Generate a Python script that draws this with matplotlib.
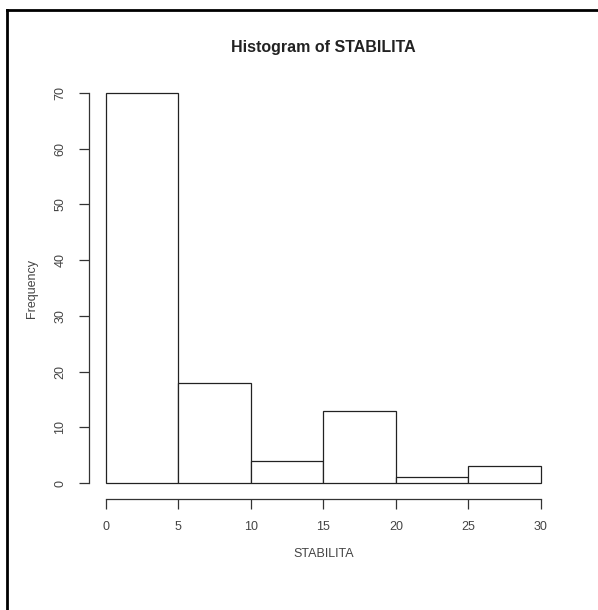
import numpy as np
import matplotlib.pyplot as plt

plt.rcParams['font.family'] = ['Liberation Sans', 'DejaVu Sans']

bin_edges = [0, 5, 10, 15, 20, 25, 30]
counts = [70, 18, 4, 13, 1, 3]
x_ticks = [0, 5, 10, 15, 20, 25, 30]
y_ticks = [0, 10, 20, 30, 40, 50, 60, 70]

fig = plt.figure(figsize=(5.98, 6.10), dpi=100)
ax = fig.add_axes([0.148, 0.1826, 0.7856, 0.6905])

lefts = np.array(bin_edges[:-1])
widths = np.diff(bin_edges)
ax.bar(lefts, counts, width=widths, align='edge', facecolor='white',
       edgecolor='#222222', linewidth=0.9)

ax.set_xlim(-1.2, 31.2)
ax.set_ylim(-2.8, 72.8)
for s in ['top', 'right']:
    ax.spines[s].set_visible(False)
ax.spines['left'].set_bounds(0, 70)
ax.spines['bottom'].set_bounds(0, 30)
for s in ['left', 'bottom']:
    ax.spines[s].set_color('#333333')
    ax.spines[s].set_linewidth(0.9)

ax.set_xticks(x_ticks)
ax.set_yticks(y_ticks)
ax.set_yticklabels([str(v) for v in y_ticks], rotation=90, va='center')
ax.tick_params(direction='out', length=7, width=0.9, color='#333333',
               labelcolor='#444444', labelsize=9, pad=9)

ax.set_title('Histogram of STABILITA', fontsize=11.5, fontweight='bold',
             color='#222222', pad=18)
ax.set_xlabel('STABILITA', fontsize=9, color='#444444', labelpad=11)
ax.set_ylabel('Frequency', fontsize=9, color='#444444', labelpad=12)

# outer frame (top and left edges only)
fig.add_artist(plt.Line2D([6.5 / 598, 1], [1 - 9.5 / 610, 1 - 9.5 / 610],
                          transform=fig.transFigure, color='black', linewidth=2))
fig.add_artist(plt.Line2D([6.5 / 598, 6.5 / 598], [0, 1 - 9.5 / 610],
                          transform=fig.transFigure, color='black', linewidth=2))

fig.savefig('out.png', dpi=100)
